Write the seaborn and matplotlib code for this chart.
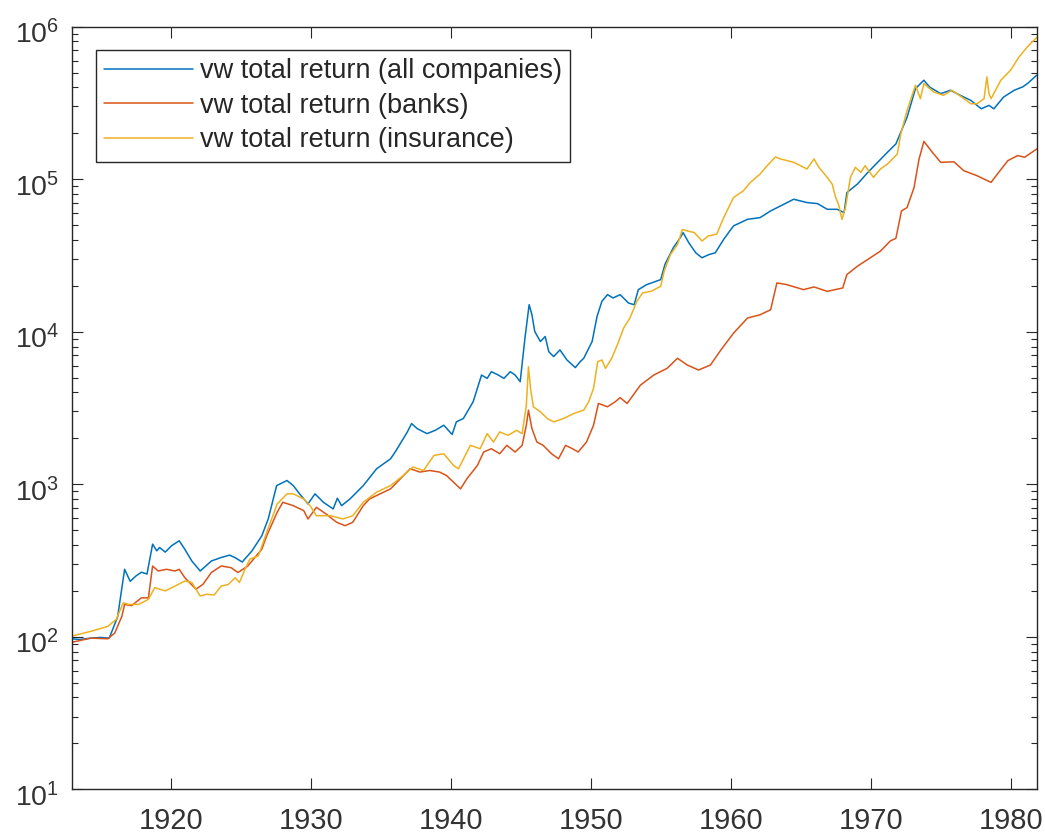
import numpy as np
import pandas as pd
import matplotlib
matplotlib.use("Agg")
import matplotlib.pyplot as plt
import matplotlib.ticker as mticker
import matplotlib.transforms as mtransforms
import seaborn as sns

# Value-weighted total return indices (log scale), start ~100 in 1913
years_all = [1912.92, 1913.5, 1914.3, 1915.0, 1915.6, 1916.2, 1916.7, 1917.1, 1917.5, 1917.9,
             1918.3, 1918.7, 1919.0, 1919.2, 1919.6, 1920.05, 1920.6, 1921.0, 1921.5, 1922.1,
             1922.9, 1923.6, 1924.2, 1924.6, 1925.1, 1925.8, 1926.5, 1926.96, 1927.56, 1928.3,
             1928.75, 1929.2, 1929.8, 1930.3, 1930.9, 1931.6, 1931.9, 1932.2, 1932.8, 1933.75,
             1934.7, 1935.7, 1936.1, 1936.9, 1937.2, 1937.6, 1938.3, 1938.9, 1939.5, 1940.1,
             1940.4, 1940.9, 1941.6, 1941.9, 1942.2, 1942.6, 1942.9, 1943.4, 1943.8, 1944.25,
             1944.6, 1944.96, 1945.3, 1945.6, 1945.8, 1946.0, 1946.4, 1946.75, 1947.0, 1947.35,
             1947.8, 1948.3, 1948.9, 1949.25, 1949.5, 1950.1, 1950.45, 1950.8, 1951.2, 1951.6,
             1952.1, 1952.7, 1953.1, 1953.4, 1954.0, 1955.0, 1955.3, 1955.9, 1956.4, 1956.6,
             1957.0, 1957.5, 1957.95, 1958.4, 1958.9, 1959.5, 1960.2, 1961.2, 1962.1, 1962.85,
             1963.55, 1964.5, 1965.45, 1966.2, 1966.9, 1967.6, 1968.1, 1968.3, 1969.05, 1969.8,
             1970.5, 1971.2, 1971.8, 1972.15, 1972.6, 1973.2, 1973.8, 1974.2, 1975.0, 1975.7,
             1976.4, 1977.15, 1977.9, 1978.45, 1978.8, 1979.5, 1980.25, 1980.85, 1981.2, 1981.86]
vw_all = [97, 96, 98, 99, 98, 135, 277, 231, 250, 265,
          258, 405, 366, 385, 359, 395, 426, 375, 314, 270,
          314, 331, 343, 330, 309, 366, 459, 592, 980, 1058,
          980, 865, 743, 865, 762, 689, 810, 724, 801, 980,
          1263, 1469, 1667, 2203, 2500, 2317, 2148, 2259, 2438, 2120,
          2566, 2698, 3475, 4250, 5200, 4943, 5470, 5200, 4943, 5470,
          5200, 4705, 9081, 15040, 12920, 10040, 8630, 9310, 7410, 6870,
          7600, 6530, 5820, 6370, 6700, 8630, 12600, 15850, 17510, 16650,
          17510, 15420, 15040, 18880, 20370, 21970, 27600, 35560, 41400, 44680,
          38400, 32960, 30550, 31940, 32960, 40360, 49430, 54600, 56000, 61950,
          66800, 73900, 70300, 69200, 63500, 63500, 60400, 81800, 92900, 110900,
          129100, 150300, 170300, 203300, 255000, 392600, 445800, 402700, 363900, 383000,
          354800, 328900, 289700, 304800, 289700, 346000, 383000, 402700, 423600, 480800]

years_banks = [1912.92, 1914.3, 1915.5, 1916.0, 1916.5, 1916.7, 1917.2, 1917.9, 1918.4, 1918.7,
               1919.1, 1919.7, 1920.3, 1920.6, 1921.0, 1921.8, 1922.3, 1922.9, 1923.6, 1924.3,
               1924.8, 1925.5, 1926.1, 1926.5, 1926.85, 1927.6, 1928.0, 1928.75, 1929.5, 1929.8,
               1930.4, 1931.1, 1931.85, 1932.45, 1933.0, 1933.75, 1934.2, 1934.95, 1935.7, 1936.4,
               1937.1, 1937.8, 1938.5, 1939.2, 1939.7, 1940.7, 1941.15, 1941.9, 1942.35, 1942.9,
               1943.5, 1944.0, 1944.6, 1945.1, 1945.4, 1945.55, 1945.8, 1946.15, 1946.6, 1947.2,
               1947.7, 1948.2, 1948.7, 1949.1, 1949.7, 1950.2, 1950.55, 1951.2, 1951.75, 1952.1,
               1952.6, 1953.55, 1954.5, 1955.45, 1956.2, 1956.9, 1957.7, 1958.55, 1959.3, 1960.2,
               1961.2, 1962.1, 1962.85, 1963.3, 1964.0, 1965.2, 1965.95, 1966.9, 1968.0, 1968.3,
               1969.05, 1969.8, 1970.7, 1971.4, 1971.8, 1972.2, 1972.6, 1973.1, 1973.45, 1973.8,
               1974.4, 1975.0, 1975.95, 1976.65, 1977.6, 1978.6, 1979.05, 1979.8, 1980.5, 1981.0,
               1981.86]
vw_banks = [92, 98, 97, 106, 136, 163, 160, 180, 180, 291,
            270, 277, 270, 277, 244, 205, 221, 264, 291, 284,
            264, 291, 339, 375, 459, 655, 762, 724, 671, 592,
            706, 638, 563, 535, 563, 724, 801, 865, 933, 1086,
            1263, 1202, 1231, 1202, 1140, 933, 1086, 1327, 1627, 1710,
            1585, 1799, 1627, 1799, 2438, 3062, 2317, 1893, 1799, 1585,
            1469, 1799, 1710, 1627, 1893, 2438, 3387, 3221, 3475, 3700,
            3387, 4467, 5200, 5750, 6700, 6050, 5610, 6050, 7600, 9790,
            12300, 12920, 13930, 20900, 20370, 18880, 19660, 18400, 19360, 23700,
            26900, 29800, 33800, 39350, 41000, 61950, 65200, 88300, 135000, 177000,
            150300, 129100, 130000, 113800, 105400, 95300, 108100, 132400, 142900, 139300,
            157800]

years_ins = [1912.92, 1914.3, 1915.5, 1916.1, 1916.6, 1917.0, 1917.7, 1918.4, 1918.85, 1919.6,
             1920.3, 1921.0, 1921.5, 1922.1, 1922.55, 1923.1, 1923.6, 1924.1, 1924.6, 1924.9,
             1925.3, 1925.65, 1926.25, 1926.85, 1927.6, 1928.3, 1928.75, 1929.5, 1929.95, 1930.4,
             1931.4, 1932.3, 1933.0, 1933.75, 1934.7, 1935.7, 1936.6, 1937.3, 1938.05, 1938.8,
             1939.5, 1940.2, 1940.55, 1941.4, 1942.1, 1942.6, 1943.05, 1943.5, 1944.1, 1944.7,
             1945.1, 1945.4, 1945.55, 1945.7, 1945.9, 1946.4, 1946.9, 1947.35, 1948.05, 1948.8,
             1949.5, 1949.85, 1950.2, 1950.5, 1950.8, 1951.05, 1951.5, 1951.9, 1952.35, 1952.8,
             1953.3, 1953.7, 1954.3, 1955.0, 1955.25, 1955.7, 1956.2, 1956.55, 1956.9, 1957.4,
             1957.95, 1958.4, 1959.0, 1959.5, 1960.2, 1960.9, 1961.4, 1962.1, 1962.5, 1963.2,
             1963.55, 1964.5, 1965.45, 1965.95, 1966.3, 1966.8, 1967.25, 1967.5, 1967.7, 1967.95,
             1968.2, 1968.55, 1968.9, 1969.3, 1969.6, 1970.2, 1970.7, 1971.2, 1971.9, 1972.15,
             1972.6, 1973.2, 1973.55, 1973.8, 1974.5, 1975.2, 1975.8, 1976.5, 1977.15, 1977.6,
             1978.1, 1978.3, 1978.45, 1978.6, 1979.3, 1980.0, 1980.6, 1981.2, 1981.86]
vw_ins = [101, 108.6, 117, 130, 167, 163, 163, 176, 210, 200,
          215, 232, 227, 185, 190, 188, 215, 220, 244, 227,
          277, 323, 339, 483, 743, 865, 865, 801, 724, 622,
          622, 592, 622, 762, 887, 980, 1140, 1297, 1231, 1545,
          1585, 1327, 1263, 1799, 1710, 2148, 1893, 2203, 2094, 2259,
          2148, 3296, 5900, 4250, 3221, 2985, 2698, 2566, 2698, 2911,
          3062, 3475, 4250, 6370, 6530, 5750, 6700, 8200, 10570, 12300,
          15850, 17950, 18400, 19860, 24950, 32140, 37330, 46880, 45800, 44680,
          39350, 42460, 43620, 56000, 75860, 83900, 95300, 108100, 119700, 140000,
          135800, 129100, 116700, 135800, 119700, 105400, 92900, 75860, 68500, 54600,
          65200, 102800, 119700, 110900, 122700, 102800, 116700, 125900, 146200, 198100,
          282500, 413000, 337300, 423600, 373300, 354800, 383000, 346000, 312600, 312600,
          337300, 469000, 363900, 337300, 445800, 519000, 634000, 738000, 850000]

labels = ["vw total return (all companies)", "vw total return (banks)",
          "vw total return (insurance)"]
colors = ["#0072BD", "#D95319", "#EDB120"]
x_ticks = [1920, 1930, 1940, 1950, 1960, 1970, 1980]

sns.set_style("white")
plt.rcParams["font.family"] = ["Liberation Sans", "DejaVu Sans"]
plt.rcParams["mathtext.fontset"] = "custom"
plt.rcParams["mathtext.rm"] = "Liberation Sans"
plt.rcParams["mathtext.default"] = "regular"

W, H = 1045, 838
ax_l, ax_r, ax_t, ax_b = 71.7, 1036.7, 26.7, 789.3
fig = plt.figure(figsize=(W / 100, H / 100), dpi=100)
ax = fig.add_axes([ax_l / W, 1 - ax_b / H, (ax_r - ax_l) / W, (ax_b - ax_t) / H])

series = [(years_all, vw_all), (years_banks, vw_banks), (years_ins, vw_ins)]
for (xs, ys), lab, col in zip(series, labels, colors):
    df = pd.DataFrame({"year": xs, "value": ys})
    sns.lineplot(data=df, x="year", y="value", ax=ax, color=col, linewidth=1.1,
                 label=lab, estimator=None)

ax.set_yscale("log")
ax.set_xlim(1912.92, 1981.86)
ax.set_ylim(10, 1e6)
ax.set_xticks(x_ticks)
ax.set_xticklabels([str(t) for t in x_ticks])
ax.yaxis.set_major_locator(mticker.LogLocator(base=10, numticks=10))
ax.yaxis.set_minor_locator(mticker.LogLocator(base=10, subs=np.arange(2, 10), numticks=20))
ax.yaxis.set_minor_formatter(mticker.NullFormatter())
ax.xaxis.set_minor_locator(mticker.NullLocator())
ax.set_xlabel("")
ax.set_ylabel("")

edge = "#262626"
for sp in ax.spines.values():
    sp.set_visible(True)
    sp.set_color(edge)
    sp.set_linewidth(1.0)
ax.tick_params(which="both", direction="in", left=True, bottom=True, top=True, right=True,
               color=edge, labelcolor="#333333", width=0.8)
ax.tick_params(which="major", length=8)
ax.tick_params(which="minor", length=4)
ax.tick_params(axis="x", which="major", labelsize=21, pad=13)
ax.tick_params(axis="y", which="major", labelsize=20.5, pad=9)

# y labels sit slightly below their ticks
shift = mtransforms.ScaledTranslation(0, -5 / 100, fig.dpi_scale_trans)
for lbl in ax.get_yticklabels():
    lbl.set_transform(lbl.get_transform() + shift)

leg = ax.legend(loc="upper left",
                bbox_to_anchor=(24 / (ax_r - ax_l), 1 - 23.3 / (ax_b - ax_t)),
                borderaxespad=0, fontsize=19.5, frameon=True, fancybox=False, framealpha=1,
                edgecolor=edge, handlelength=3.3, handletextpad=0.25, labelspacing=0.32,
                borderpad=0.3)
leg.get_frame().set_linewidth(1.0)

fig.savefig("out.png", dpi=100)
